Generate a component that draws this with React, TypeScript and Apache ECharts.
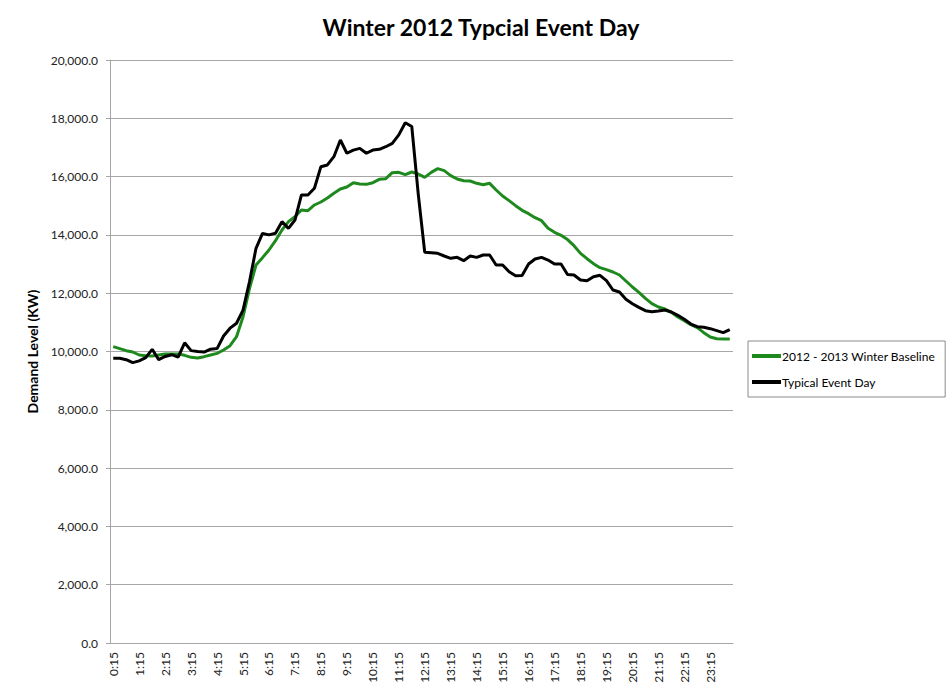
import React, { useEffect, useRef } from "react";
import * as echarts from "echarts";

const times: string[] = [];
for (let h = 0; h < 24; h++) {
  for (const m of [15, 30, 45, 60]) {
    times.push(m === 60 ? `${h + 1}:00` : `${h}:${m}`);
  }
}

const baseline = [
  10165, 10097, 10028, 9983, 9880, 9858, 9845, 9880, 9914, 9914, 9914, 9869,
  9800, 9777, 9823, 9880, 9937, 10051, 10200, 10508, 11194, 12168, 12967, 13220,
  13482, 13802, 14168, 14454, 14625, 14854, 14831, 15026, 15129, 15266, 15426, 15574,
  15643, 15791, 15746, 15734, 15791, 15906, 15929, 16135, 16146, 16066, 16158, 16089,
  15975, 16146, 16272, 16203, 16032, 15918, 15860, 15849, 15769, 15723, 15769, 15540,
  15334, 15175, 15003, 14843, 14728, 14590, 14488, 14225, 14088, 13985, 13840, 13630,
  13367, 13184, 13013, 12876, 12807, 12727, 12624, 12418, 12213, 12030, 11825, 11640,
  11526, 11458, 11344, 11183, 11057, 10920, 10817, 10646, 10497, 10440, 10429, 10430,
];

const eventDay = [
  9767, 9770, 9720, 9620, 9680, 9790, 10075, 9720, 9830, 9890, 9810, 10300,
  10030, 10000, 9980, 10080, 10100, 10530, 10800, 10970, 11420, 12400, 13540, 14050,
  14000, 14055, 14454, 14225, 14510, 15370, 15370, 15600, 16340, 16400, 16683, 17255,
  16800, 16910, 16970, 16800, 16910, 16935, 17025, 17140, 17430, 17850, 17720, 15400,
  13402, 13390, 13367, 13276, 13196, 13230, 13115, 13276, 13230, 13310, 13310, 12967,
  12967, 12738, 12600, 12610, 13000, 13173, 13230, 13138, 13000, 13000, 12640, 12625,
  12453, 12430, 12567, 12613, 12430, 12110, 12041, 11790, 11640, 11515, 11400, 11366,
  11389, 11423, 11355, 11241, 11104, 10943, 10851, 10829, 10783, 10715, 10646, 10750,
];

const seriesNames = ["2012 - 2013 Winter Baseline", "Typical Event Day"];

const FONT = "Lato, 'Open Sans', sans-serif";

export default function App() {
  const ref = useRef<HTMLDivElement>(null);
  useEffect(() => {
    if (!ref.current) return;
    document.body.style.margin = "0";
    const chart = echarts.init(ref.current, undefined, { renderer: "svg" });
    chart.setOption({
      animation: false,
      backgroundColor: "#ffffff",
      title: {
        text: "Winter 2012 Typcial Event Day",
        left: 476,
        top: 10,
        textAlign: "center",
        textStyle: { fontFamily: FONT, fontWeight: "bold", fontSize: 23, color: "#000" },
      },
      legend: {
        orient: "vertical",
        left: 748,
        top: 341,
        padding: [9, 10, 9, 4],
        itemGap: 14,
        itemWidth: 29,
        itemHeight: 4,
        icon: "rect",
        borderColor: "#8a8a8a",
        borderWidth: 1,
        borderRadius: 0,
        textStyle: { fontFamily: FONT, fontSize: 12, color: "#000", padding: [0, 0, 0, -4] },
        data: seriesNames,
      },
      grid: { left: 110, right: 213, top: 60, bottom: 44, containLabel: false },
      xAxis: {
        type: "category",
        data: times,
        boundaryGap: true,
        axisLine: { lineStyle: { color: "#a6a6a6", width: 1 } },
        axisTick: { show: false },
        axisLabel: {
          interval: 3,
          rotate: 90,
          fontFamily: FONT,
          fontSize: 12,
          color: "#222",
          margin: 9,
        },
        splitLine: { show: false },
      },
      yAxis: {
        type: "value",
        min: 0,
        max: 20000,
        interval: 2000,
        name: "Demand Level (KW)",
        nameLocation: "middle",
        nameGap: 70,
        nameTextStyle: { fontFamily: FONT, fontWeight: "bold", fontSize: 14, color: "#000" },
        axisLine: { show: true, lineStyle: { color: "#a6a6a6", width: 1 } },
        axisTick: { show: true, length: 4, lineStyle: { color: "#a6a6a6" } },
        axisLabel: {
          fontFamily: FONT,
          fontSize: 12,
          color: "#222",
          margin: 12,
          formatter: (v: number) =>
            v.toLocaleString("en-US", { minimumFractionDigits: 1, maximumFractionDigits: 1 }),
        },
        splitLine: { show: true, lineStyle: { color: "#a6a6a6", width: 1 } },
      },
      series: [
        {
          name: seriesNames[0],
          type: "line",
          data: baseline,
          symbol: "none",
          lineStyle: { color: "#1e8a1e", width: 3 },
          itemStyle: { color: "#1e8a1e" },
          z: 2,
        },
        {
          name: seriesNames[1],
          type: "line",
          data: eventDay,
          symbol: "none",
          lineStyle: { color: "#000000", width: 3 },
          itemStyle: { color: "#000000" },
          z: 3,
        },
      ],
    });
    return () => chart.dispose();
  }, []);
  return <div ref={ref} style={{ width: 946, height: 687 }} />;
}
